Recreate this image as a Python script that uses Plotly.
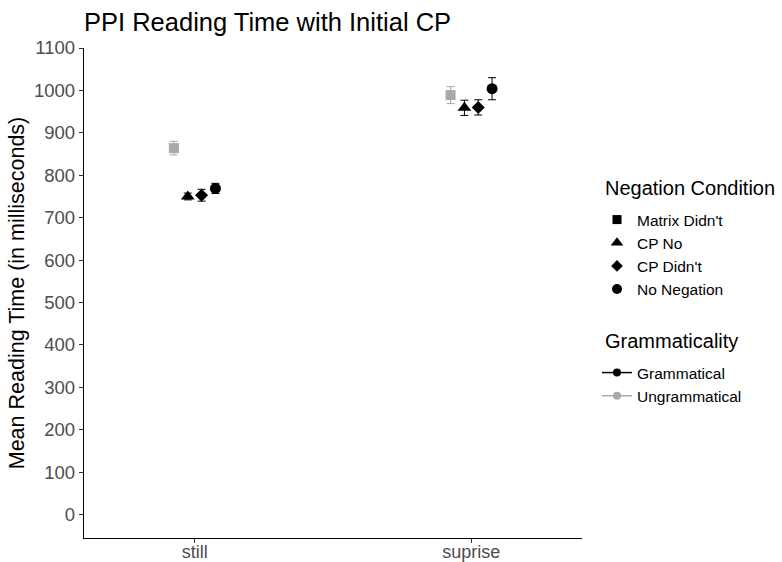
import plotly.graph_objects as go

# Reading-time summary per word and negation condition
words = ["still", "suprise"]
conditions = ["Matrix Didn't", "CP No", "CP Didn't", "No Negation"]
grammaticality = ["Ungrammatical", "Grammatical", "Grammatical", "Grammatical"]

mean_still = [864, 750, 753, 769]
mean_suprise = [989, 959, 960, 1004]
se_still = [16, 8, 14, 12]
se_suprise = [20, 18, 18, 26]

symbols = ["square", "triangle-up", "diamond", "circle"]
sizes = [10, 12, 10, 11]
gram_colors = {"Grammatical": "black", "Ungrammatical": "#a9a9a9"}

dodge_width = 0.2
n = len(conditions)

fig = go.Figure()

for i, cond in enumerate(conditions):
    offset = (i - (n - 1) / 2) * dodge_width / n
    xs = [k + offset for k in range(len(words))]
    ys = [mean_still[i], mean_suprise[i]]
    errs = [se_still[i], se_suprise[i]]
    col = gram_colors[grammaticality[i]]
    fig.add_trace(go.Scatter(
        x=xs, y=ys, mode="markers", showlegend=False,
        marker=dict(symbol=symbols[i], size=sizes[i], color=col, line=dict(width=0)),
        error_y=dict(type="data", array=errs, visible=True, color=col, thickness=1, width=4),
    ))

# Legend: negation condition (shapes)
for i, cond in enumerate(conditions):
    fig.add_trace(go.Scatter(
        x=[None], y=[None], mode="markers", name=cond, legend="legend",
        marker=dict(symbol=symbols[i], size=sizes[i] - 1, color="black"),
    ))

# Legend: grammaticality (colours)
for g in ["Grammatical", "Ungrammatical"]:
    fig.add_trace(go.Scatter(
        x=[None], y=[None], mode="lines+markers", name=g, legend="legend2",
        line=dict(color=gram_colors[g], width=1.5),
        marker=dict(symbol="circle", size=8, color=gram_colors[g]),
    ))

font_family = "Liberation Sans, Arial, sans-serif"
axis_font = dict(family=font_family, size=18, color="#4d4d4d")
W, H = 782, 562

fig.update_layout(
    width=W, height=H,
    margin=dict(l=84, r=200, t=48, b=24),
    plot_bgcolor="white", paper_bgcolor="white",
    font=dict(family=font_family, color="black"),
    title=dict(text="PPI Reading Time with Initial CP", x=84 / W, xanchor="left",
               y=1 - 22 / H, yanchor="middle",
               font=dict(size=25.5, color="black")),
    xaxis=dict(range=[-0.4, 1.4], tickmode="array", tickvals=list(range(len(words))),
               ticktext=words, showgrid=False, zeroline=False, showline=True,
               linecolor="black", linewidth=1.3, ticks="outside", ticklen=4,
               tickcolor="#333333", tickfont=axis_font, automargin=False,
               ticklabelstandoff=-7),
    yaxis=dict(range=[-55, 1100], tickmode="array", tickvals=list(range(0, 1101, 100)),
               showgrid=False, zeroline=False, showline=True, linecolor="black",
               linewidth=1.3, ticks="outside", ticklen=4, tickcolor="#333333",
               tickfont=dict(family=font_family, size=18.5, color="#4d4d4d"),
               automargin=False,
               title=dict(text="Mean Reading Time (in milliseconds)", standoff=3,
                          font=dict(size=21.5, color="black"))),
    legend=dict(xref="container", yref="container",
                x=597 / W, xanchor="left", y=1 - 203 / H, yanchor="top",
                font=dict(size=15.5), bgcolor="rgba(0,0,0,0)", itemclick=False),
    legend2=dict(xref="container", yref="container",
                 x=597 / W, xanchor="left", y=1 - 356 / H, yanchor="top",
                 font=dict(size=15.5), bgcolor="rgba(0,0,0,0)", itemclick=False),
    annotations=[
        dict(text="Negation Condition", xref="paper", yref="paper",
             x=(603 - 84) / (W - 284), y=1 - (188 - 48) / (H - 72),
             xanchor="left", yanchor="middle", showarrow=False,
             font=dict(size=20, color="black")),
        dict(text="Grammaticality", xref="paper", yref="paper",
             x=(603 - 84) / (W - 284), y=1 - (341 - 48) / (H - 72),
             xanchor="left", yanchor="middle", showarrow=False,
             font=dict(size=20, color="black")),
    ],
)

fig.write_html("out.html")
